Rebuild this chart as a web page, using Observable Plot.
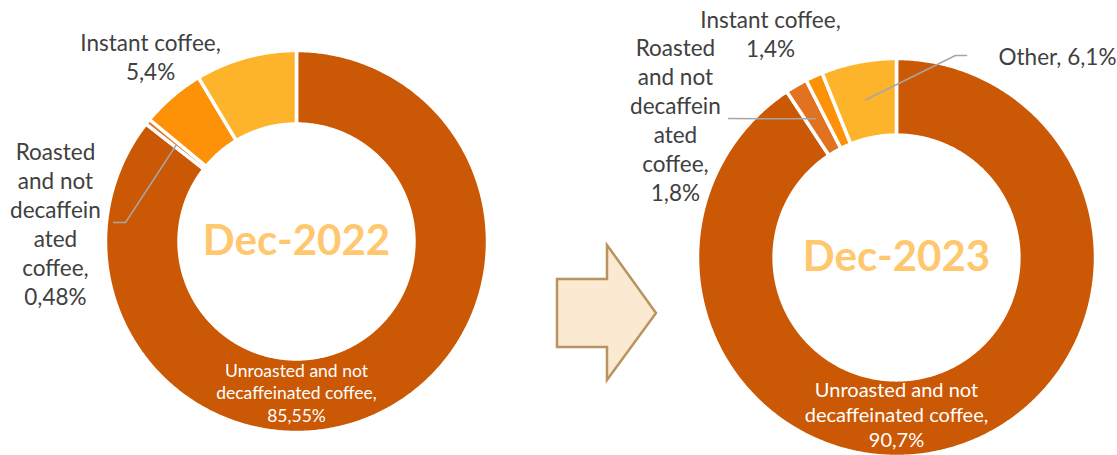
<!DOCTYPE html>
<html>
<head>
<meta charset="utf-8">
<script src="https://cdn.jsdelivr.net/npm/d3@7"></script>
<script src="https://cdn.jsdelivr.net/npm/@observablehq/plot@0.6"></script>
<style>
  html, body { margin: 0; padding: 0; background: #fff; }
  #wrap { position: relative; width: 1117px; height: 455px; overflow: hidden; background: #fff; }
  #wrap > svg, #wrap > div { position: absolute; }
</style>
</head>
<body>
<div id="wrap"></div>
<script>
// ---- data ----
const categories = ["Unroasted and not decaffeinated coffee", "Roasted and not decaffeinated coffee", "Instant coffee", "Other"];
const colors = ["#CB5804", "#E07220", "#FD9209", "#FEB42A"];
const periods = ["Dec-2022", "Dec-2023"];
const values2022 = [85.55, 0.48, 5.4, 8.57];
const values2023 = [90.7, 1.8, 1.4, 6.1];
const outerLabels2022 = ["", "Roasted\nand not\ndecaffein\nated\ncoffee,", "Instant coffee,", ""];
const outerLabels2023 = ["", "Roasted\nand not\ndecaffein\nated\ncoffee,", "Instant coffee,", "Other,"];
const innerLabel = "Unroasted and not\ndecaffeinated coffee,";

const fmt = v => String(v).replace(".", ",") + "%";
const INNER = 0.615;
const FONT = "Lato, 'Open Sans', sans-serif";
const OUTER_SIZE = 22.5;

function arcPoints(values) {
  const total = d3.sum(values);
  let cum = 0;
  const pts = [];
  const mids = [];
  values.forEach((v, i) => {
    const a0 = cum / total * 2 * Math.PI;
    cum += v;
    const a1 = cum / total * 2 * Math.PI;
    mids.push((a0 + a1) / 2);
    const n = Math.max(2, Math.ceil((a1 - a0) / (Math.PI / 360)));
    for (let k = 0; k <= n; k++) {
      const a = a0 + (a1 - a0) * k / n;
      pts.push({x: Math.sin(a), y: Math.cos(a), cat: categories[i]});
    }
    for (let k = n; k >= 0; k--) {
      const a = a0 + (a1 - a0) * k / n;
      pts.push({x: INNER * Math.sin(a), y: INNER * Math.cos(a), cat: categories[i]});
    }
  });
  return {pts, mids};
}
const midRing = (INNER + 1) / 2;
const ringPoint = a => ({x: midRing * Math.sin(a), y: midRing * Math.cos(a)});

function donut({values, period, left, width, cx, cy, R, outer, outerStart, inner, leaders, innerSize}) {
  const {pts, mids} = arcPoints(values);
  const H = 455;
  const xDomain = [-cx / R, (width - cx) / R];
  const yDomain = [(cy - H) / R, cy / R];
  const leaderData = [];
  leaders.forEach((L, j) => {
    L.from.forEach(p => leaderData.push({x: p[0], y: p[1], g: j}));
    const e = ringPoint(mids[L.slice]);
    leaderData.push({x: e.x, y: e.y, g: j});
  });
  const svg = Plot.plot({
    width, height: H,
    margin: 0,
    x: {domain: xDomain, axis: null},
    y: {domain: yDomain, axis: null},
    color: {domain: categories, range: colors},
    marks: [
      Plot.line(pts, {x: "x", y: "y", z: "cat", fill: "cat", stroke: "white", strokeWidth: 3.5, strokeLinejoin: "round", curve: "linear-closed"}),
      Plot.line(leaderData, {x: "x", y: "y", z: "g", stroke: "#A6A6A6", strokeWidth: 1.5}),
      Plot.text(outer, {x: "x", y: "y", text: "text", textAnchor: "middle", fill: "#404040", fontSize: OUTER_SIZE, lineHeight: 1.29, fontFamily: FONT}),
      Plot.text(outerStart, {x: "x", y: "y", text: "text", textAnchor: "start", fill: "#404040", fontSize: OUTER_SIZE, fontFamily: FONT}),
      Plot.text([inner], {x: "x", y: "y", text: "text", fill: "white", fontSize: innerSize, lineHeight: inner.lh, fontFamily: FONT}),
      Plot.text([period], {x: () => 0, y: () => 0, text: d => d, fill: "#FFC86E", fontSize: 42, fontWeight: "bold", fontFamily: FONT})
    ]
  });
  svg.style.left = left + "px";
  svg.style.top = "0px";
  return svg;
}

const wrap = document.getElementById("wrap");

// Dec-2022
const R1 = 191, cx1 = 296, cy1 = 241;
wrap.appendChild(donut({
  values: values2022, period: periods[0], left: 0, width: 560, cx: cx1, cy: cy1, R: R1,
  outer: [
    {x: -0.764, y: 0.971, text: outerLabels2022[2] + "\n" + fmt(values2022[2])},
    {x: -1.262, y: 0.094, text: outerLabels2022[1] + "\n" + fmt(values2022[1])}
  ],
  outerStart: [],
  inner: {x: 0, y: -0.788, text: innerLabel + "\n" + fmt(values2022[0]), lh: 1.3},
  innerSize: 17.5,
  leaders: [{from: [[-0.958, 0.0995], [-0.895, 0.0995]], slice: 1}]
}));

// Dec-2023
const R2 = 199, cx2 = 336, cy2 = 257;
wrap.appendChild(donut({
  values: values2023, period: periods[1], left: 560, width: 557, cx: cx2, cy: cy2, R: R2,
  outer: [
    {x: -0.633, y: 1.126, text: outerLabels2023[2] + "\n" + fmt(values2023[2])},
    {x: -1.111, y: 0.696, text: outerLabels2023[1] + "\n" + fmt(values2023[1])}
  ],
  outerStart: [
    {x: 0.513, y: 1.005, text: outerLabels2023[3] + " " + fmt(values2023[3])}
  ],
  inner: {x: 0, y: -0.784, text: innerLabel + "\n" + fmt(values2023[0]), lh: 1.25},
  innerSize: 20,
  leaders: [
    {from: [[-0.844, 0.698]], slice: 1},
    {from: [[0.352, 1.015], [0.296, 1.015]], slice: 3}
  ]
}));

// arrow decoration
const ns = "http://www.w3.org/2000/svg";
const arrow = document.createElementNS(ns, "svg");
arrow.setAttribute("width", 1117);
arrow.setAttribute("height", 455);
arrow.style.left = "0px"; arrow.style.top = "0px";
const poly = document.createElementNS(ns, "polygon");
poly.setAttribute("points", "557,279 607,279 607,245 656,313 607,380 607,347 557,347");
poly.setAttribute("fill", "#FCE9D2");
poly.setAttribute("stroke", "#B8945E");
poly.setAttribute("stroke-width", "2.5");
arrow.appendChild(poly);
wrap.appendChild(arrow);
</script>
</body>
</html>
